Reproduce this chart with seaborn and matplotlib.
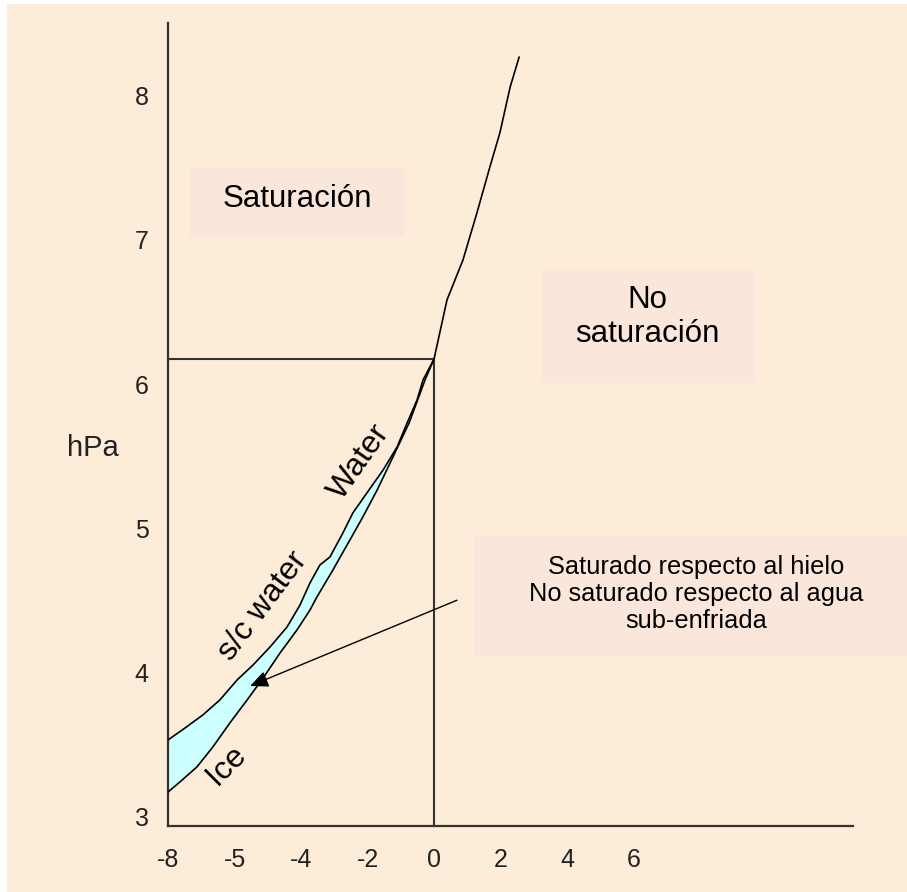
import numpy as np
import matplotlib
matplotlib.use("Agg")
import matplotlib.pyplot as plt
import seaborn as sns
from matplotlib.patches import Rectangle

# ---------------- data ----------------
water_T = [-8.00, -7.49, -6.95, -6.44, -5.92, -5.44, -4.93, -4.42, -4.03, -3.73,
           -3.43, -3.13, -2.74, -2.44, -2.02, -1.53, -1.11, -0.81, -0.51, -0.33,
           0.00, 0.39, 0.87, 1.29, 1.68, 1.98, 2.29, 2.56]
water_p = [3.530, 3.613, 3.704, 3.808, 3.947, 4.051, 4.176, 4.314, 4.467, 4.620,
           4.745, 4.800, 4.967, 5.106, 5.244, 5.404, 5.564, 5.730, 5.890, 6.029,
           6.174, 6.584, 6.861, 7.188, 7.507, 7.743, 8.062, 8.270]
ice_T = [-8.00, -7.64, -7.13, -6.65, -6.14, -5.62, -5.14, -4.63, -4.12, -3.73,
         -3.52, -3.04, -2.53, -2.14, -1.71, -1.32, -0.75, -0.27, 0.00]
ice_p = [3.169, 3.239, 3.343, 3.482, 3.648, 3.808, 3.960, 4.134, 4.294, 4.432,
         4.523, 4.710, 4.918, 5.078, 5.265, 5.453, 5.730, 6.029, 6.174]
triple_T = 0.0
triple_p = 6.174
arrow_from = (0.69, 4.50)
arrow_to = (-5.53, 3.905)
x_ticks = [-8, -6, -4, -2, 0, 2, 4, 6]
x_ticklabels = ["-8", "-5", "-4", "-2", "0", "2", "4", "6"]
y_ticks = [3, 4, 5, 6, 7, 8]
y_ticklabels = ["3", "4", "5", "6", "7", "8"]

# ---------------- style ----------------
PAGE = "#FDECD8"
BOX = "#FAE6DA"
FILL = "#CCFFFF"
DARK = "#333333"

W, H = 907, 892
sns.set_theme(style="white")
plt.rcParams["font.family"] = ["Liberation Sans", "DejaVu Sans"]

fig = plt.figure(figsize=(W / 100, H / 100), dpi=100, facecolor="white")


def fx(x):
    return x / W


def fy(y):
    return 1 - y / H


fig.add_artist(Rectangle((fx(7), 0), 1 - fx(7), fy(4), transform=fig.transFigure,
                         facecolor=PAGE, edgecolor="none", zorder=-3))
for (x0, y0, x1, y1) in [(190, 168, 404, 237), (541, 269, 755, 383), (474, 535, 907, 656)]:
    fig.add_artist(Rectangle((fx(x0), fy(y1)), fx(x1) - fx(x0), fy(y0) - fy(y1),
                             transform=fig.transFigure, facecolor=BOX,
                             edgecolor="none", zorder=-2))

ax = fig.add_axes([fx(168), fy(826), fx(853) - fx(168), fy(23) - fy(826)])
ax.set_facecolor("none")

# fill between s/c water and ice
wT = np.array(water_T)
wp = np.array(water_p)
mask = wT <= triple_T
poly_T = np.concatenate([wT[mask], np.array(ice_T)[::-1]])
poly_p = np.concatenate([wp[mask], np.array(ice_p)[::-1]])
ax.fill(poly_T, poly_p, color=FILL, lw=0, zorder=1)

sns.lineplot(x=water_T, y=water_p, color="black", lw=1.2, estimator=None,
             sort=False, ax=ax, zorder=3)
sns.lineplot(x=ice_T, y=ice_p, color="black", lw=1.2, estimator=None,
             sort=False, ax=ax, zorder=3)

xlim = (-8, 12.6)
ylim = (2.933, 8.506)
ax.set_xlim(*xlim)
ax.set_ylim(*ylim)

ax.hlines(triple_p, xlim[0], triple_T, color=DARK, lw=1.5, zorder=2)
ax.vlines(triple_T, ylim[0], triple_p, color=DARK, lw=1.5, zorder=2)

ax.annotate("", xy=arrow_to, xytext=arrow_from,
            arrowprops=dict(arrowstyle="-|>,head_length=0.55,head_width=0.25",
                            color="black", lw=1, mutation_scale=20,
                            shrinkA=0, shrinkB=0), zorder=4)

ax.set_xticks(x_ticks)
ax.set_xticklabels(x_ticklabels)
ax.set_yticks(y_ticks)
ax.set_yticklabels(y_ticklabels)
ax.tick_params(axis="both", length=0, labelsize=18, labelcolor="#222222")
ax.tick_params(axis="x", pad=16)
ax.tick_params(axis="y", pad=14)

sns.despine(ax=ax)
for s in ("left", "bottom"):
    ax.spines[s].set_color(DARK)
    ax.spines[s].set_linewidth(1.6)

ax.set_ylabel("hPa", rotation=0, fontsize=21, color="#222222", ha="center", va="center")
ax.yaxis.set_label_coords(-0.1095, 0.4707)
ax.set_xlabel("")

# texts
fig.text(fx(297), fy(199), "Saturación", fontsize=22.5, ha="center", va="center", color="black")
fig.text(fx(647), fy(317), "No\nsaturación", fontsize=22.5, ha="center", va="center",
         color="black", linespacing=1.2)
fig.text(fx(696), fy(594), "Saturado respecto al hielo\nNo saturado respecto al agua\nsub-enfriada",
         fontsize=18.3, ha="center", va="center", color="black", linespacing=1.18)

fig.text(fx(263), fy(606), "s/c water", fontsize=23, rotation=53, rotation_mode="anchor",
         ha="center", va="center", color="black")
fig.text(fx(359), fy(462), "Water", fontsize=23, rotation=55, rotation_mode="anchor",
         ha="center", va="center", color="black")
fig.text(fx(226), fy(765), "Ice", fontsize=23, rotation=45, rotation_mode="anchor",
         ha="center", va="center", color="black")

fig.savefig("out.png", dpi=100, facecolor="white")
